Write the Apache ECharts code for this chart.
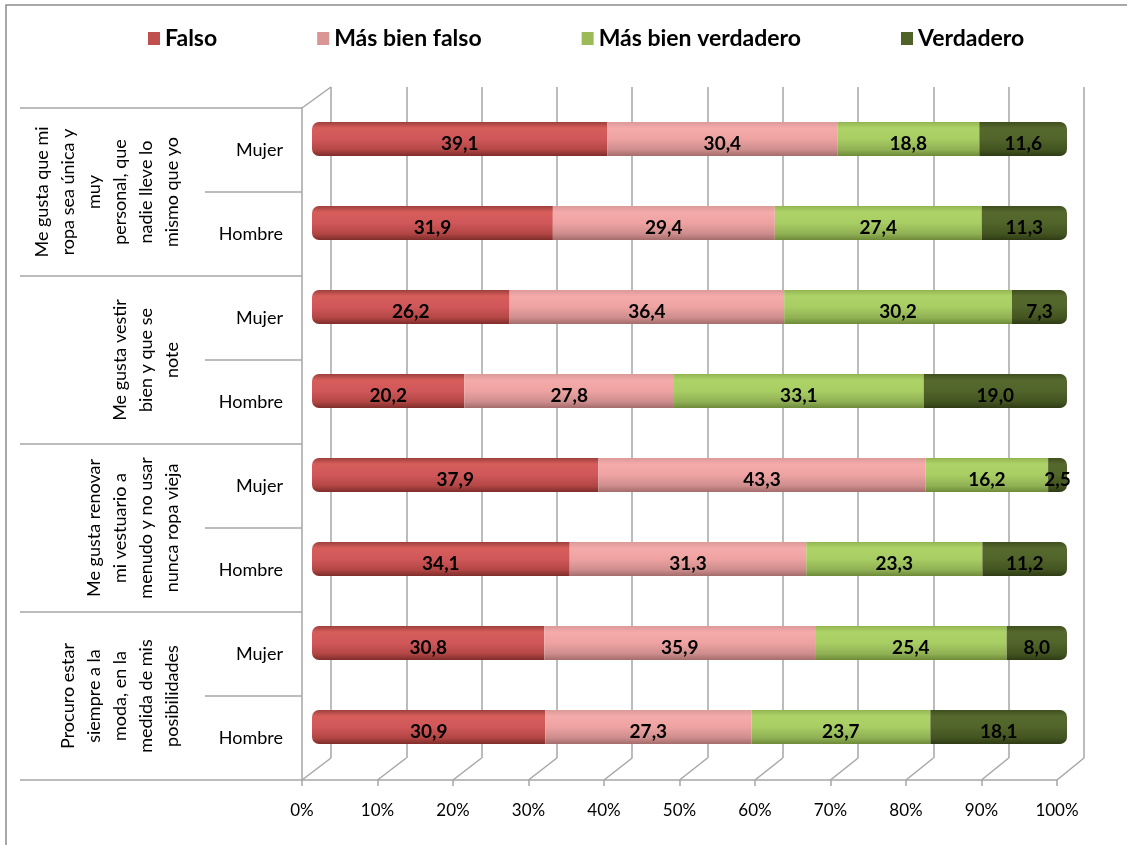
<!DOCTYPE html>
<html>
<head>
<meta charset="utf-8">
<script src="https://cdn.jsdelivr.net/npm/echarts@6/dist/echarts.min.js"></script>
<style>
html,body{margin:0;padding:0;background:#fff;}
#c{width:1127px;height:845px;}
</style>
</head>
<body>
<div id="c"></div>
<script>
// ---- data ----
const categories = ['Mujer','Hombre','Mujer','Hombre','Mujer','Hombre','Mujer','Hombre'];
const groups = [
  'Me gusta que mi\nropa sea única y\nmuy\npersonal, que\nnadie lleve lo\nmismo que yo',
  'Me gusta vestir\nbien y que se\nnote',
  'Me gusta renovar\nmi vestuario a\nmenudo y no usar\nnunca ropa vieja',
  'Procuro estar\nsiempre a la\nmoda, en la\nmedida de mis\nposibilidades'
];
const seriesNames = ['Falso','Más bien falso','Más bien verdadero','Verdadero'];
const falso            = [39.1,31.9,26.2,20.2,37.9,34.1,30.8,30.9];
const masBienFalso     = [30.4,29.4,36.4,27.8,43.3,31.3,35.9,27.3];
const masBienVerdadero = [18.8,27.4,30.2,33.1,16.2,23.3,25.4,23.7];
const verdadero        = [11.6,11.3,7.3,19.0,2.5,11.2,8.0,18.1];
const tickValues = [0,10,20,30,40,50,60,70,80,90,100];

// ---- styling ----
const FONT = 'Lato, "Open Sans", sans-serif';
const legendColors = ['#C0504D','#D99694','#9BBB59','#4F6228'];
const grads = [
  ['#9C3F3D','#D85E5B','#D0575A','#B24644','#7E2D2B'],
  ['#D99A99','#F4ABAA','#EEA3A2','#CC8D8C','#A46C6B'],
  ['#93B552','#AED468','#A8CD63','#90B054','#6E8A38'],
  ['#3E4E1E','#56692D','#51642A','#435420','#2F3B15']
];
function grad(c){
  return new echarts.graphic.LinearGradient(0,0,0,1,[
    {offset:0,color:c[0]},{offset:0.18,color:c[1]},{offset:0.5,color:c[2]},
    {offset:0.82,color:c[3]},{offset:1,color:c[4]}]);
}
const allSeries = [falso, masBienFalso, masBienVerdadero, verdadero];
const sums = categories.map((_,i)=>allSeries.reduce((s,a)=>s+a[i],0));

const GRID_LINE = '#A6A6A6';
const FRONT = {left:302, top:108, width:755, height:672};
const BACK  = {left:331, top:87,  width:753, height:671};
const BARS  = {left:312, top:97,  width:755, height:672};

const chart = echarts.init(document.getElementById('c'));

const barSeries = allSeries.map((arr,si)=>({
  name: seriesNames[si],
  type:'bar',
  stack:'total',
  xAxisIndex:0, yAxisIndex:0,
  barWidth:34,
  z:3,
  itemStyle:{
    color: grad(grads[si]),
    borderRadius: si===0 ? [7,0,0,7] : (si===3 ? [0,7,7,0] : 0)
  },
  label:{
    show:true, position:'inside', offset:[0,5],
    fontFamily:FONT, fontWeight:'bold', fontSize:19, color:'#000',
    formatter: p => p.data.raw.toFixed(1).replace('.',',')
  },
  data: arr.map((v,i)=>({value: v/sums[i]*100, raw: v}))
}));

const option = {
  backgroundColor:'#fff',
  animation:false,
  legend:{
    top:22, left:143, itemGap:100, itemWidth:12, itemHeight:13,
    icon:'rect',
    textStyle:{fontFamily:FONT, fontWeight:'bold', fontSize:23, color:'#000'},
    data: seriesNames.map((n,i)=>({name:n, itemStyle:{color:legendColors[i]}}))
  },
  grid:[
    Object.assign({containLabel:false}, BARS),
    Object.assign({containLabel:false}, BACK),
    Object.assign({containLabel:false}, FRONT)
  ],
  xAxis:[
    {gridIndex:0, type:'value', min:0, max:100, show:false},
    {gridIndex:1, type:'value', min:0, max:100, interval:10,
      axisLine:{show:false}, axisTick:{show:false}, axisLabel:{show:false},
      splitLine:{show:true, lineStyle:{color:GRID_LINE, width:1.5}}},
    {gridIndex:2, type:'value', min:0, max:100, interval:10, position:'bottom',
      axisLine:{show:true, lineStyle:{color:GRID_LINE, width:1.5}},
      axisTick:{show:true, length:6, lineStyle:{color:GRID_LINE, width:1.5}},
      axisLabel:{show:true, margin:22, fontFamily:FONT, fontSize:17, color:'#000',
        formatter: v => v + '%'},
      splitLine:{show:false}}
  ],
  yAxis:[
    {gridIndex:0, type:'category', inverse:true, data:categories, show:false},
    {gridIndex:1, type:'value', show:false},
    {gridIndex:2, type:'category', inverse:true, data:categories, position:'left',
      axisLine:{show:true, lineStyle:{color:GRID_LINE, width:1.5}},
      axisTick:{show:true, length:97, lineStyle:{color:GRID_LINE, width:1.5}},
      axisLabel:{interval:0, margin:19, fontFamily:FONT, fontSize:18, color:'#000'}},
    {gridIndex:2, type:'category', inverse:true, data:groups, position:'left',
      axisLine:{show:false},
      axisTick:{show:true, interval:0, length:282, lineStyle:{color:GRID_LINE, width:1.5}},
      axisLabel:{interval:0, rotate:90, margin:117, align:'center', verticalAlign:'bottom',
        lineHeight:26, fontFamily:FONT, fontSize:18, color:'#000', hideOverlap:false}}
  ],
  series: barSeries
};
chart.setOption(option);

// depth (3D) edges derived from the axes
const frontBottom = FRONT.top + FRONT.height;
const backBottom = BACK.top + BACK.height;
const g = [];
tickValues.forEach(t=>{
  const xf = chart.convertToPixel({xAxisIndex:2}, t);
  const xb = chart.convertToPixel({xAxisIndex:1}, t);
  g.push({type:'line', z:1, shape:{x1:xf,y1:frontBottom,x2:xb,y2:backBottom},
    style:{stroke:GRID_LINE, lineWidth:1.5}});
});
{
  const xf = chart.convertToPixel({xAxisIndex:2}, 0);
  const xb = chart.convertToPixel({xAxisIndex:1}, 0);
  g.push({type:'line', z:1, shape:{x1:xf,y1:FRONT.top,x2:xb,y2:BACK.top},
    style:{stroke:GRID_LINE, lineWidth:1.5}});
}
g.push({type:'rect', z:0, shape:{x:6,y:5,width:1140,height:860},
  style:{fill:null, stroke:'#8C8C8C', lineWidth:1.5}});
chart.setOption({graphic: g});
</script>
</body>
</html>
